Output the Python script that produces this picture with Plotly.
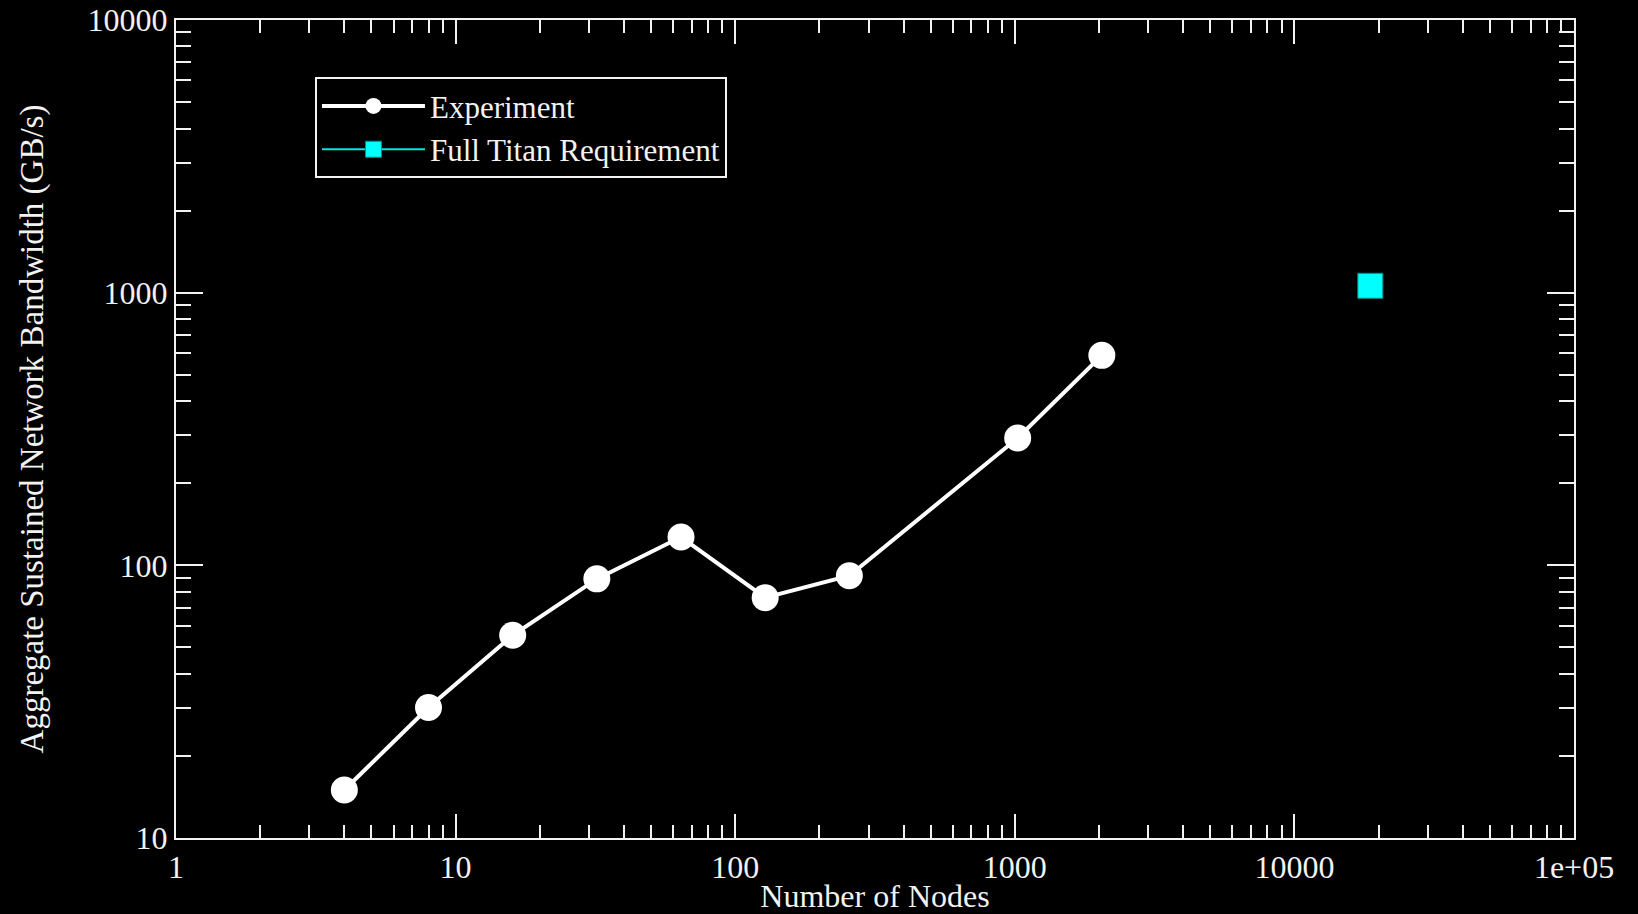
import plotly.graph_objects as go

# Data
nodes = [4, 8, 16, 32, 64, 128, 256, 1024, 2048]
bandwidth = [15.0, 30.1, 55.4, 89.2, 127, 76.1, 91.6, 293, 589]
titan_nodes = [18688]
titan_bw = [1060]

x_tickvals = [1, 10, 100, 1000, 10000, 100000]
x_ticktext = ["1", "10", "100", "1000", "10000", "1e+05"]
y_tickvals = [10, 100, 1000, 10000]
y_ticktext = ["10", "100", "1000", "10000"]

FONT = "Liberation Serif"
FG = "#f2f2f2"

fig = go.Figure()
fig.add_trace(go.Scatter(
    x=nodes, y=bandwidth, name="Experiment", mode="lines+markers",
    line=dict(color="white", width=4),
    marker=dict(symbol="circle", size=27, color="white"),
))
fig.add_trace(go.Scatter(
    x=titan_nodes, y=titan_bw, name="Full Titan Requirement", mode="lines+markers",
    line=dict(color="#00e5e5", width=2),
    marker=dict(symbol="square", size=25, color="#00ffff",
                line=dict(color="#008b8b", width=1)),
))

axis_common = dict(
    type="log", showgrid=False, zeroline=False, automargin=False,
    showline=True, linecolor=FG, linewidth=2, mirror="allticks",
    ticks="inside", tickcolor=FG, tickwidth=2,
    tickfont=dict(family=FONT, size=32, color=FG),
)

fig.update_xaxes(
    **axis_common, range=[0, 5], tickvals=x_tickvals, ticktext=x_ticktext,
    ticklen=24,
    minor=dict(ticks="inside", ticklen=13, tickcolor=FG, tickwidth=2, dtick="D1", showgrid=False),
    title=dict(text="Number of Nodes", font=dict(family=FONT, size=32, color=FG), standoff=0),
)
fig.update_yaxes(
    **axis_common, range=[1, 4], tickvals=y_tickvals, ticktext=y_ticktext,
    ticklen=27,
    minor=dict(ticks="inside", ticklen=15, tickcolor=FG, tickwidth=2, dtick="D1", showgrid=False),
    title=dict(text="Aggregate Sustained Network Bandwidth (GB/s)",
               font=dict(family=FONT, size=33, color=FG), standoff=34),
)

fig.update_layout(
    width=1638, height=914,
    paper_bgcolor="black", plot_bgcolor="black",
    margin=dict(l=176, r=64, t=20, b=76),
    showlegend=True,
    legend=dict(
        x=0.0994, y=0.930, xanchor="left", yanchor="top",
        bgcolor="black", bordercolor=FG, borderwidth=2,
        font=dict(family=FONT, size=31, color=FG),
        itemwidth=103, tracegroupgap=0,
    ),
)

fig.write_html(
    "out.html",
    config={"displayModeBar": False},
    post_script="document.body.style.margin='0';document.body.style.background='black';document.body.style.overflow='hidden';",
)
